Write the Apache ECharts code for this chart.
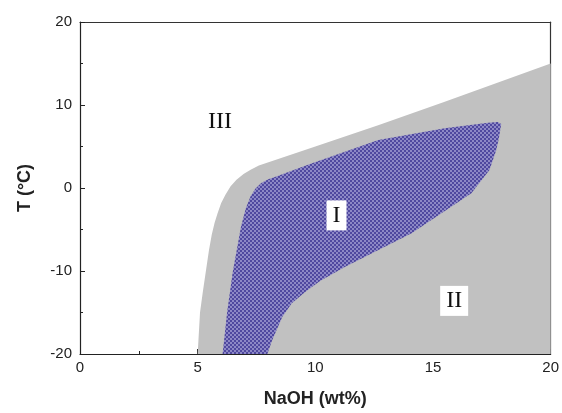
<!DOCTYPE html>
<html>
<head>
<meta charset="utf-8">
<script src="https://cdn.jsdelivr.net/npm/echarts@6/dist/echarts.min.js"></script>
<style>
  html, body { margin: 0; padding: 0; background: #fff; }
  #chart { width: 562px; height: 413px; }
</style>
</head>
<body>
<div id="chart"></div>
<script>
// region II/III boundary (x = NaOH wt%, y = T in °C), filled down to -20 and right to 20
var grayX = [5.0, 5.1, 5.22, 5.35, 5.48, 5.6, 5.72, 5.85, 6.0, 6.18, 6.4, 6.65, 6.95, 7.25, 7.6, 10.0, 12.7, 15.5, 20.0];
var grayY = [-20, -15, -12.5, -10, -7.5, -5.6, -4.2, -3.0, -1.8, -0.8, 0.2, 1.0, 1.7, 2.2, 2.7, 5.0, 7.6, 10.4, 15.0];

// region I outline (closed polygon)
var blueX = [6.06, 6.25, 6.48, 6.84, 7.05, 7.25, 7.45, 7.7, 8.0, 8.31, 9.86, 12.68, 15.5, 17.34, 17.75, 17.9, 17.8, 17.69, 17.4, 16.63, 14.09, 11.27, 10.2, 9.58, 9.0, 8.6, 8.17, 7.96];
var blueY = [-20, -15, -10.3, -4.66, -2.4, -1.0, -0.1, 0.6, 1.05, 1.36, 2.97, 5.78, 7.19, 7.87, 7.95, 7.7, 6.0, 4.58, 2.17, -0.64, -5.46, -9.48, -11.2, -12.5, -13.9, -15.5, -18.3, -20];

var regionNames = ['III', 'I', 'II'];
var regionX = [5.95, 10.9, 15.9];
var regionY = [8.0, -3.3, -13.6];

var chart = echarts.init(document.getElementById('chart'));

// checkered fill for region I
var pat = document.createElement('canvas');
pat.width = 4; pat.height = 4;
var pc = pat.getContext('2d');
pc.fillStyle = '#4f489f'; pc.fillRect(0, 0, 4, 4);
pc.fillStyle = '#8d88c6'; pc.fillRect(0, 0, 2, 2); pc.fillRect(2, 2, 2, 2);

function toPoints(xs, ys) {
  return xs.map(function (x, i) { return [x, ys[i]]; });
}
var grayPts = toPoints(grayX, grayY);
grayPts.push([20, -20]);
var bluePts = toPoints(blueX, blueY);

function polySeries(pts, fill, z) {
  return {
    type: 'custom',
    z: z,
    silent: true,
    data: [0],
    renderItem: function (params, api) {
      return {
        type: 'polygon',
        shape: { points: pts.map(function (p) { return api.coord(p); }) },
        style: { fill: fill, stroke: null }
      };
    }
  };
}

var labelData = regionNames.map(function (n, i) { return [regionX[i], regionY[i], i]; });

var axisFont = { color: '#222', fontSize: 15, fontFamily: 'Liberation Sans, Arial, sans-serif' };
var nameFont = { fontSize: 18, fontWeight: 'bold', color: '#222', fontFamily: 'Liberation Sans, Arial, sans-serif' };

chart.setOption({
  animation: false,
  grid: { left: 80, right: 9, top: 22, bottom: 59 },
  xAxis: [{
    type: 'value', min: 0, max: 20, interval: 5,
    name: 'NaOH (wt%)', nameLocation: 'middle', nameGap: 36,
    nameTextStyle: nameFont,
    axisLine: { onZero: false, lineStyle: { color: '#222', width: 1.2 } },
    axisTick: { inside: true, length: 5, lineStyle: { color: '#222' } },
    minorTick: { show: true, splitNumber: 2, length: 3, lineStyle: { color: '#222' } },
    axisLabel: Object.assign({ margin: 6 }, axisFont),
    splitLine: { show: false }
  }, {
    type: 'value', min: 0, max: 20, position: 'top',
    axisLine: { show: true, onZero: false, lineStyle: { color: '#333', width: 1.2 } },
    axisTick: { show: false }, axisLabel: { show: false }, splitLine: { show: false }
  }],
  yAxis: [{
    type: 'value', min: -20, max: 20, interval: 10,
    name: 'T (°C)', nameLocation: 'middle', nameGap: 46,
    nameTextStyle: nameFont,
    axisLine: { onZero: false, lineStyle: { color: '#222', width: 1.2 } },
    axisTick: { inside: true, length: 5, lineStyle: { color: '#222' } },
    minorTick: { show: true, splitNumber: 2, length: 3, lineStyle: { color: '#222' } },
    axisLabel: Object.assign({ margin: 8 }, axisFont),
    splitLine: { show: false }
  }, {
    type: 'value', min: -20, max: 20, position: 'right',
    axisLine: { show: true, onZero: false, lineStyle: { color: '#333', width: 1.2 } },
    axisTick: { show: false }, axisLabel: { show: false }, splitLine: { show: false }
  }],
  series: [
    polySeries(grayPts, '#c1c1c1', 1),
    polySeries(bluePts, { image: pat, repeat: 'repeat' }, 2),
    {
      // region names, I and II sit on white boxes
      type: 'custom', z: 5, silent: true,
      data: labelData,
      renderItem: function (params, api) {
        var p = api.coord([api.value(0), api.value(1)]);
        var i = api.value(2);
        return {
          type: 'text',
          x: p[0], y: p[1],
          style: {
            text: regionNames[i],
            fontFamily: 'Liberation Serif, Times New Roman, serif',
            fontSize: 24, fill: '#111',
            align: 'center', verticalAlign: 'middle',
            backgroundColor: i === 0 ? null : '#fff',
            padding: [4, 6, 2, 6]
          }
        };
      }
    }
  ]
});
</script>
</body>
</html>
